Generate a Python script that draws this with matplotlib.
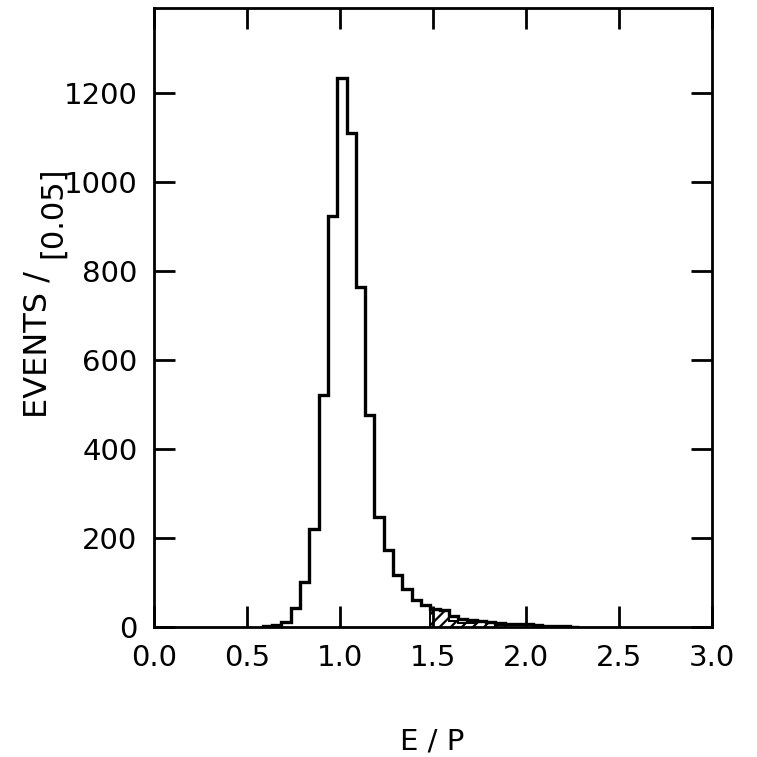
import numpy as np
import matplotlib
matplotlib.use("Agg")
import matplotlib.pyplot as plt

# ---- data ----
bin_width = 0.05
bin_start = 0.585
counts = [3, 5, 12, 42, 102, 219, 520, 924, 1232, 1109, 763, 476, 247, 172,
          116, 85, 60, 49, 41, 38, 25, 17, 15, 13, 12, 8, 7, 7, 6, 4, 3, 3, 2, 1]
hatch_start = 1.485
hatch_counts = [41, 38, 14, 10, 9, 12, 10, 4]

x_ticks = [0.0, 0.5, 1.0, 1.5, 2.0, 2.5, 3.0]
x_ticklabels = ["0.0", "0.5", "1.0", "1.5", "2.0", "2.5", "3.0"]
y_ticks = [0, 200, 400, 600, 800, 1000, 1200]
y_ticklabels = ["0", "200", "400", "600", "800", "1000", "1200"]

edges = bin_start + bin_width * np.arange(len(counts) + 1)
hedges = hatch_start + bin_width * np.arange(len(hatch_counts) + 1)

plt.rcParams['font.family'] = ['DejaVu Sans']
plt.rcParams['hatch.linewidth'] = 1.6

fig = plt.figure(figsize=(7.57, 7.57), dpi=100)
ax = fig.add_axes([154/757, 1-627/757, (712-154)/757, (627-8)/757])

ax.stairs(hatch_counts, hedges, fill=True, facecolor='white', edgecolor='black',
          hatch='///', linewidth=0)
ax.stairs(hatch_counts, hedges, color='black', linewidth=1.4)
ax.stairs(counts, edges, color='black', linewidth=2.4, baseline=0)

ax.set_xlim(0, 3.0)
ax.set_ylim(0, 1390)
ax.set_xticks(x_ticks)
ax.set_xticklabels(x_ticklabels)
ax.set_yticks(y_ticks)
ax.set_yticklabels(y_ticklabels)

for s in ax.spines.values():
    s.set_linewidth(2.0)
ax.tick_params(direction='in', length=15, width=2.0, top=True, right=True,
               labelsize=21)
ax.tick_params(axis='x', pad=12)
ax.tick_params(axis='y', pad=12)

fig.text(432/757, 1-742/757, "E / P", fontsize=21, ha='center', va='center')
fig.text(38/757, 1-345/757, "EVENTS /", fontsize=23, rotation=90,
         ha='center', va='center')
fig.text(53/757, 1-212/757, "[0.05]", fontsize=22, rotation=90,
         ha='center', va='center')

fig.savefig("out.png", dpi=100)
